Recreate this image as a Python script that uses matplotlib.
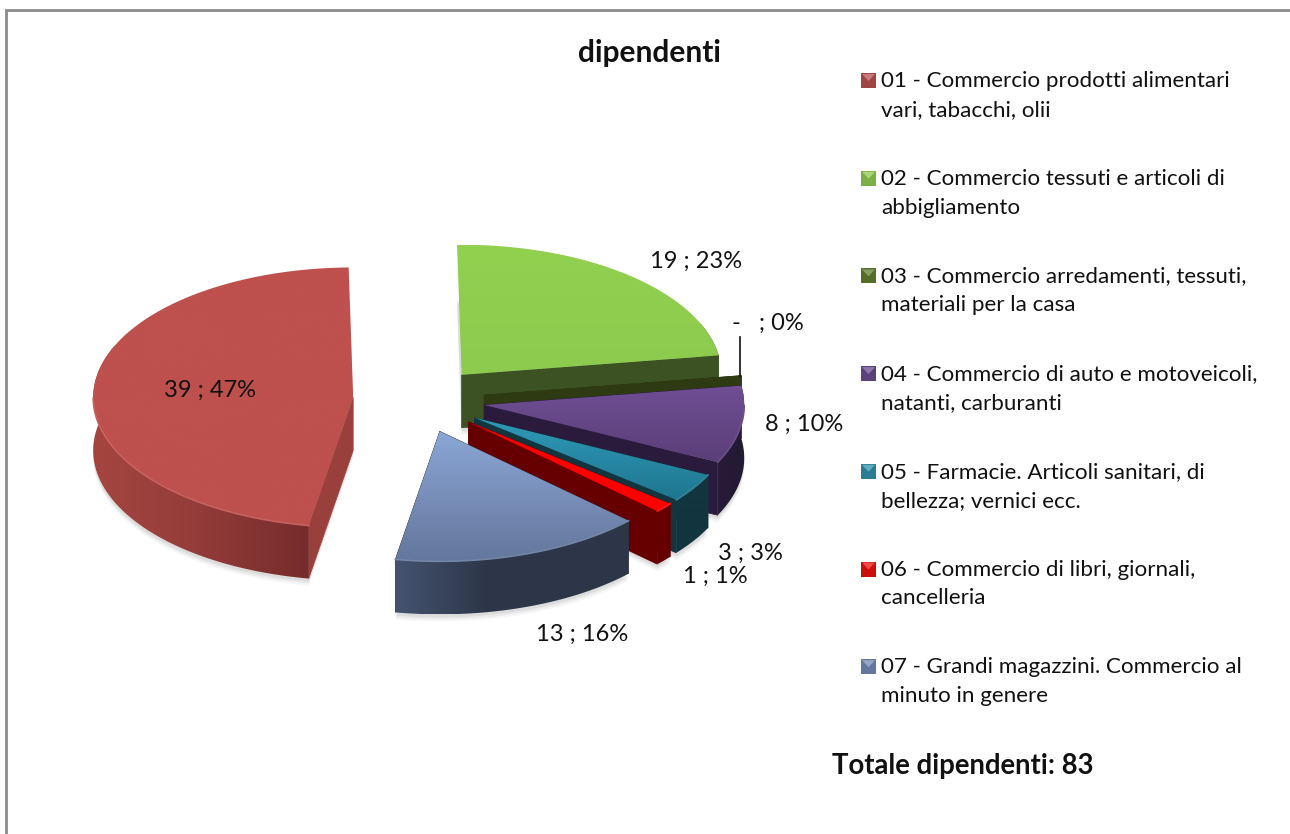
import numpy as np
import matplotlib
matplotlib.use("Agg")
import matplotlib.pyplot as plt
from matplotlib.colors import LinearSegmentedColormap, to_rgb
from matplotlib.patches import Polygon, Rectangle

title = "dipendenti"
total_note = "Totale dipendenti: 83"
values = [39, 19, 0, 8, 3, 1, 13]
labels = ["39 ; 47%", "19 ; 23%", "-   ; 0%", "8 ; 10%", "3 ; 3%", "1 ; 1%", "13 ; 16%"]
label_xy = [(210, 390), (696, 261), (768, 323), (804, 424), (750, 553), (715, 576), (582, 634)]
legend_names = [
    "01 - Commercio prodotti alimentari\nvari, tabacchi, olii",
    "02 - Commercio tessuti e articoli di\nabbigliamento",
    "03 - Commercio arredamenti, tessuti,\nmateriali per la casa",
    "04 - Commercio di auto e motoveicoli,\nnatanti, carburanti",
    "05 - Farmacie. Articoli sanitari, di\nbellezza; vernici ecc.",
    "06 - Commercio di libri, giornali,\ncancelleria",
    "07 - Grandi magazzini. Commercio al\nminuto in genere",
]
top_hi = ["#be504d", "#92d050", "#2e3a12", "#6f4e94", "#2e9ab8", "#ff0000", "#8ba6d6"]
top_lo = ["#be504d", "#8ccb4e", "#2e3a12", "#5a3f78", "#1f7690", "#ff0000", "#64779c"]
wall_a = ["#a5453f", "#3d5223", "#2e3a12", "#281a38", "#12353f", "#660000", "#455370"]
wall_m = ["#953d3a", "#3d5223", "#2e3a12", "#261a36", "#12353f", "#660000", "#2c3648"]
wall_b = ["#752c2b", "#3d5223", "#2e3a12", "#231a33", "#12353f", "#660000", "#2c3648"]
cut = ["#9a403c", "#3d5223", "#2e3a12", "#2a1a3b", "#12353f", "#660000", "#2c3648"]
legend_col = ["#b5504d", "#8cc84e", "#5f7d2e", "#6a4a8e", "#2e8ea8", "#e8100c", "#6f88b4"]

CX, CY, R, K, DEPTH, EXPLODE = 419, 400, 260, 0.5, 53, 66
ROTATE = -1.0
START = 360 - 360 * values[0] / sum(values) + ROTATE

fig = plt.figure(figsize=(12.9, 8.34), dpi=100)
ax = fig.add_axes([0, 0, 1, 1])
ax.set_xlim(0, 1290)
ax.set_ylim(834, 0)
ax.axis("off")
ax.set_autoscale_on(False)
plt.rcParams["font.family"] = ["Lato", "DejaVu Sans"]
ax.plot([6, 6, 1290], [834, 10, 10], color="#8c8c8c", lw=2, solid_joinstyle="miter", zorder=1)


def pt(ox, oy, deg, r=R):
    t = np.radians(deg)
    return ox + r * np.sin(t), oy - r * K * np.cos(t)


def mix(a, b, f):
    a, b = np.array(to_rgb(a)), np.array(to_rgb(b))
    return tuple(a + (b - a) * f)


cum = START
z = 5
for i, v in enumerate(values):
    a0, a1 = cum, cum + 360 * v / sum(values)
    cum = a1
    mid = (a0 + a1) / 2
    ox, oy = pt(CX, CY, mid, EXPLODE)
    if v == 0:
        lead_x, lead_y = pt(ox, oy, a0)
    th = np.linspace(a0, a1, max(int(a1 - a0) * 2, 2))
    rx, ry = pt(ox, oy, th)
    top = np.vstack([[ox, oy], np.column_stack([rx, ry])])

    # soft shadow under the body
    if v > 0:
        for off, al in [(7, 0.05), (5, 0.07), (3, 0.09)]:
            low = np.column_stack([rx, ry + DEPTH + off])
            poly = np.vstack([[ox, oy + DEPTH + off], low])
            ax.add_patch(Polygon(poly, fc="#505050", ec="none", alpha=al, zorder=z))
        z += 1

    # flat cut faces, leaving out those that point away from the viewer
    for a in (a0, a1):
        if np.cos(np.radians(a)) > 0.9:
            continue
        ex, ey = pt(ox, oy, a)
        quad = [(ox, oy), (ex, ey), (ex, ey + DEPTH), (ox, oy + DEPTH)]
        ax.add_patch(Polygon(quad, fc=cut[i], ec=cut[i], lw=0.5, zorder=z))
    z += 1

    # curved wall with horizontal gradient, only the part facing the viewer
    if v > 0:
        near = np.cos(np.radians(th)) < 0.4
        fx, fy = rx[near], ry[near]
        wall = np.vstack([np.column_stack([fx, fy]),
                          np.column_stack([fx[::-1], fy[::-1] + DEPTH])])
        wp = Polygon(wall, fc="none", ec="none", zorder=z)
        ax.add_patch(wp)
        cmap = LinearSegmentedColormap.from_list(
            "w", [(0, wall_a[i]), (0.45 if i != 6 else 0.4, wall_m[i]), (1, wall_b[i])])
        im = ax.imshow(np.linspace(0, 1, 256).reshape(1, -1), cmap=cmap, aspect="auto",
                       extent=(fx.min(), fx.max(), wall[:, 1].max(), wall[:, 1].min()),
                       interpolation="bilinear", zorder=z)
        im.set_clip_path(wp)
    z += 1

    # top face with vertical gradient
    patch = Polygon(top, fc="none", ec="none", zorder=z)
    ax.add_patch(patch)
    cmap = LinearSegmentedColormap.from_list("g", [top_hi[i], top_lo[i]])
    y0, y1 = top[:, 1].min(), top[:, 1].max()
    if v > 0:
        im = ax.imshow(np.linspace(0, 1, 128).reshape(-1, 1), cmap=cmap, aspect="auto",
                       extent=(top[:, 0].min(), top[:, 0].max(), y1, y0),
                       interpolation="bilinear", zorder=z)
        im.set_clip_path(patch)
        lit = np.cos(np.radians(th)) < 0
        if lit.sum() > 1:
            ax.plot(rx[lit], ry[lit], color=mix(top_lo[i], "#ffffff", 0.1), lw=1.2, zorder=z + 0.5)
    z += 1

ax.set_xlim(0, 1290)
ax.set_ylim(834, 0)

# leader line of the zero slice
ax.plot([lead_x - 1, lead_x - 1], [337, lead_y], color="#111111", lw=1.2, zorder=z + 1)

for s, (x, y) in zip(labels, label_xy):
    ax.text(x, y, s, ha="center", va="center", fontsize=17, color="#111111", zorder=z + 2)

ax.text(649, 53, title, ha="center", va="center", fontsize=21.5, fontweight="bold", color="#111111")
ax.text(963, 766, total_note, ha="center", va="center", fontsize=19.8, fontweight="bold", color="#111111")

# legend
for i, (name, c) in enumerate(zip(legend_names, legend_col)):
    y = 81 + i * 97.7
    ax.add_patch(Rectangle((861, y - 8), 15, 15, fc=mix(c, "#000000", 0.12), ec="none", zorder=5))
    ax.add_patch(Polygon([(862, y - 7), (875, y - 7), (868.5, y)], fc=mix(c, "#ffffff", 0.25), ec="none", zorder=6))
    l1, l2 = name.split("\n")
    ax.text(881, y, l1, ha="left", va="center", fontsize=16.1, color="#111111")
    ax.text(881, y + 29, l2, ha="left", va="center", fontsize=16.1, color="#111111")

fig.savefig("out.png", dpi=100, facecolor="white")
